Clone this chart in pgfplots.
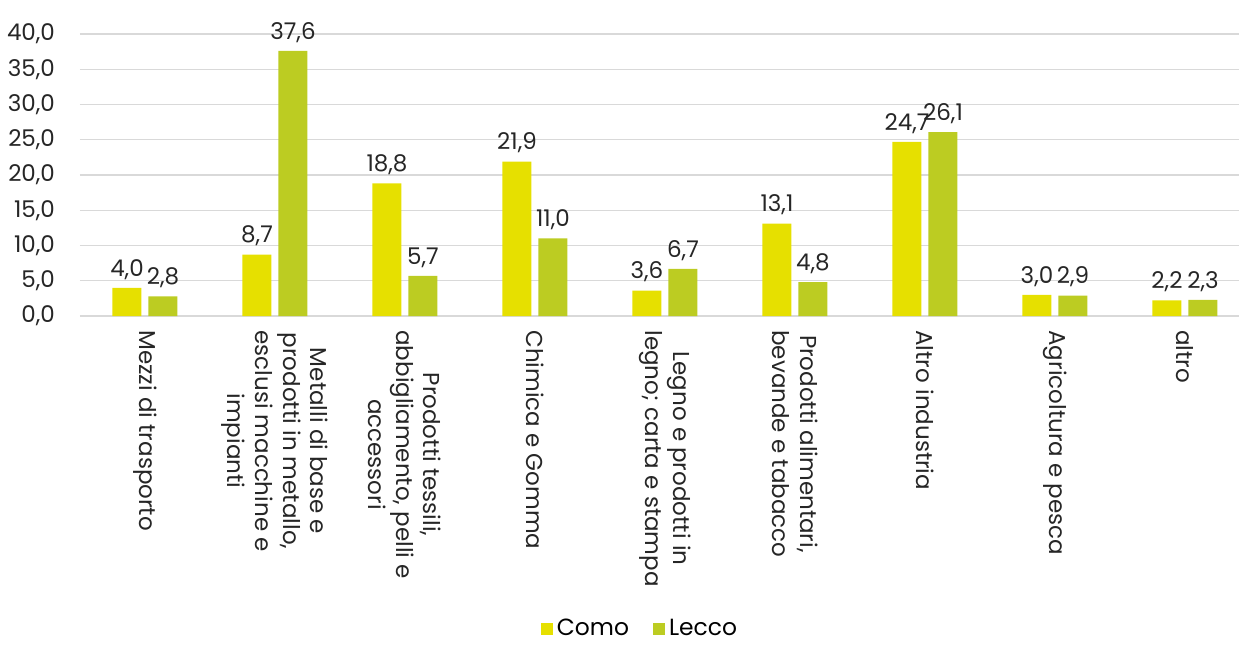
\documentclass[border=0pt]{standalone}
\usepackage{pgfplots}
\pgfplotsset{compat=1.18}
\usepackage{fontspec}
\setmainfont{Poppins}
\definecolor{como}{RGB}{230,224,0}
\definecolor{lecco}{RGB}{188,204,34}
\definecolor{gridc}{RGB}{217,217,217}
\begin{document}
\begin{tikzpicture}
\begin{axis}[
  scale only axis,
  at={(0,0)}, anchor=south west,
  width=585pt, height=141pt,
  xmin=-0.5, xmax=8.5,
  ymin=0, ymax=40,
  ytick={0,5,...,40},
  xtick={0,...,8},
  xticklabels={
    {Mezzi di trasporto},
    {Metalli di base e\\prodotti in metallo,\\esclusi macchine e\\impianti},
    {Prodotti tessili,\\abbigliamento, pelli e\\accessori},
    {Chimica e Gomma},
    {Legno e prodotti in\\legno; carta e stampa},
    {Prodotti alimentari,\\bevande e tabacco},
    {Altro industria},
    {Agricoltura e pesca},
    {altro}},
  x tick label style={rotate=-90, anchor=west, align=center, font=\fontsize{11.5}{13.8}\selectfont, text=black!85, inner sep=1pt},
  xticklabel shift=6pt,
  y tick label style={font=\fontsize{11.5}{12}\selectfont, text=black!85},
  yticklabel shift=9pt,
  /pgf/number format/assume math mode=true,
  yticklabel={\pgfmathprintnumber[fixed,fixed zerofill,precision=1,use comma]{\tick}},
  ymajorgrids, grid style={gridc, line width=0.6pt},
  axis x line*=bottom, axis y line*=left,
  x axis line style={gridc, line width=0.6pt, -},
  y axis line style={draw=none},
  major tick length=0pt,
  bar width=14.5pt,
  ybar=3.5pt,
  nodes near coords={\pgfmathprintnumber[fixed,fixed zerofill,precision=1,use comma]{\pgfplotspointmeta}},
  nodes near coords style={font=\fontsize{11.5}{12}\selectfont, text=black!85, inner sep=2pt, yshift=2pt},
  every node near coord/.append style={/pgf/number format/assume math mode=true},
  legend style={at={(0.5,-1.11)}, xshift=-12pt, anchor=center, draw=none, legend columns=2, font=\fontsize{11.7}{12}\selectfont, /tikz/every even column/.append style={column sep=10pt}},
  legend image code/.code={\fill[#1] (0pt,-3pt) rectangle (6pt,3pt);},
  clip=false,
]
\addplot[fill=como, draw=none] coordinates {(0,4.0) (1,8.7) (2,18.8) (3,21.9) (4,3.6) (5,13.1) (6,24.7) (7,3.0) (8,2.2)};
\addplot[fill=lecco, draw=none] coordinates {(0,2.8) (1,37.6) (2,5.7) (3,11.0) (4,6.7) (5,4.8) (6,26.1) (7,2.9) (8,2.3)};
\legend{Como, Lecco}
\end{axis}
\pgfresetboundingbox
\useasboundingbox (-40pt,-164pt) rectangle (579.5pt,158pt);
\end{tikzpicture}
\end{document}
